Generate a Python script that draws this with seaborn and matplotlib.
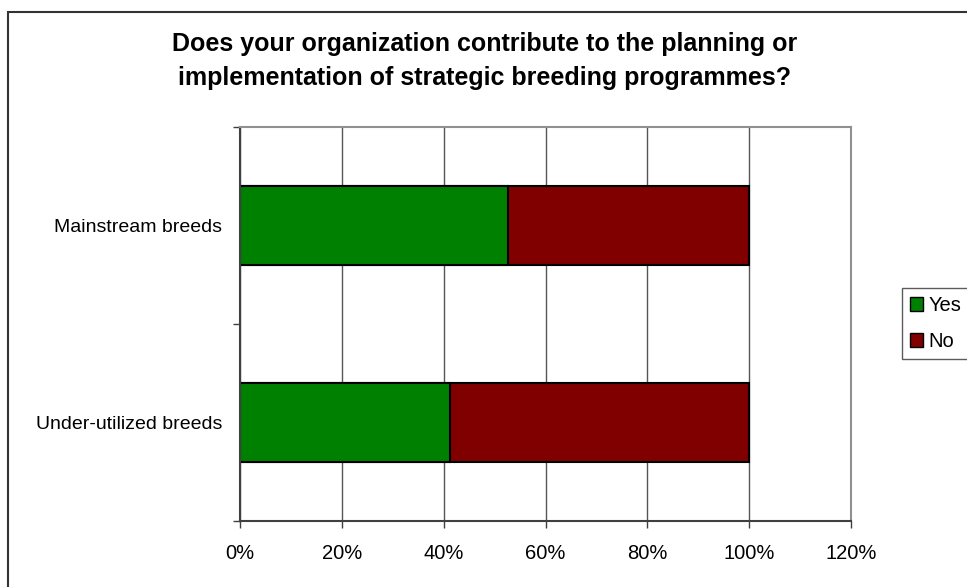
import matplotlib
matplotlib.use("Agg")
import matplotlib.pyplot as plt
import seaborn as sns
import pandas as pd
from matplotlib.patches import Rectangle
from matplotlib.ticker import FixedLocator, PercentFormatter

categories = ["Mainstream breeds", "Under-utilized breeds"]
yes_values = [52.7, 41.3]
no_values = [47.3, 58.7]
x_ticks = [0, 20, 40, 60, 80, 100, 120]
title = "Does your organization contribute to the planning or\nimplementation of strategic breeding programmes?"

sns.set_theme(style="white")
plt.rcParams["font.family"] = ["Liberation Sans", "DejaVu Sans"]
plt.rcParams["text.color"] = "black"

df = pd.DataFrame({"cat": categories, "yes": yes_values, "no": no_values})
df["total"] = df["yes"] + df["no"]

W, H = 967, 587
fig = plt.figure(figsize=(W / 100, H / 100), dpi=100)
ax = fig.add_axes([240 / W, 1 - 521 / H, (851 - 240) / W, (521 - 127) / H])

sns.barplot(data=df, y="cat", x="total", order=categories, color="#800000",
            saturation=1, width=0.4, edgecolor="black", linewidth=1.5, ax=ax, orient="h")
sns.barplot(data=df, y="cat", x="yes", order=categories, color="#008000",
            saturation=1, width=0.4, edgecolor="black", linewidth=1.5, ax=ax, orient="h")

ax.set_xlim(0, 120)
ax.set_ylim(1.5, -0.5)
ax.xaxis.set_major_locator(FixedLocator(x_ticks))
ax.xaxis.set_major_formatter(PercentFormatter(decimals=0))
ax.set_xlabel("")
ax.set_ylabel("")
ax.grid(axis="x", color="#555555", linewidth=1)
ax.set_axisbelow(True)

ax.yaxis.set_minor_locator(FixedLocator([-0.5, 0.5, 1.5]))
ax.tick_params(axis="y", which="major", length=0, labelsize=14, pad=13, colors="black")
ax.tick_params(axis="y", which="minor", length=5, width=1, color="#404040", direction="out", left=True)
ax.tick_params(axis="x", which="major", length=5, width=1, color="#404040", direction="out",
               labelsize=14.5, pad=11.5, bottom=True, labelcolor="black")

for s in ["left", "bottom"]:
    ax.spines[s].set_color("#404040")
    ax.spines[s].set_linewidth(1.5)
for s in ["top", "right"]:
    ax.spines[s].set_color("#909090")
    ax.spines[s].set_linewidth(1.5)

fig.text(485 / W, 1 - 61 / H, title, ha="center", va="center", fontsize=18,
         fontweight="bold", linespacing=1.55, color="black")

# outer chart frame
fig.patches.append(Rectangle((8 / W, -0.1), 1.2, 1 - 12 / H + 0.1, transform=fig.transFigure,
                             fill=False, edgecolor="#333333", linewidth=1.5))

handles = [Rectangle((0, 0), 1, 1, facecolor="#008000", edgecolor="black", linewidth=1),
           Rectangle((0, 0), 1, 1, facecolor="#800000", edgecolor="black", linewidth=1)]
leg = fig.legend(handles, ["Yes", "No"], loc="upper left", bbox_to_anchor=(902 / W, 1 - 288 / H),
                 frameon=True, fancybox=False, edgecolor="#333333", fontsize=14.5,
                 handlelength=0.65, handleheight=0.65, handletextpad=0.25, borderpad=0.4,
                 labelspacing=0.85, borderaxespad=0)
leg.get_frame().set_linewidth(1)
for t in leg.get_texts():
    t.set_color("black")

fig.savefig("out.png", dpi=100)
